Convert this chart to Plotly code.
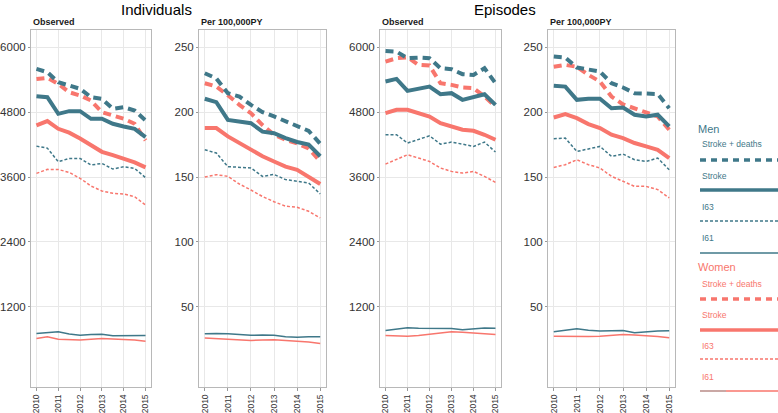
import plotly.graph_objects as go

years = [2010, 2010.5, 2011, 2011.5, 2012, 2012.5, 2013, 2013.5, 2014, 2014.5, 2015]
year_ticks = [2010, 2011, 2012, 2013, 2014, 2015]
obs_ticks = [1200, 2400, 3600, 4800, 6000]
rate_ticks = [50, 100, 150, 200, 250]
group_titles = ["Individuals", "Episodes"]
panel_titles = ["Observed", "Per 100,000PY", "Observed", "Per 100,000PY"]
sexes = ["Men", "Women"]
outcomes = ["Stroke + deaths", "Stroke", "I63", "I61"]

# Individuals, observed
ind_obs_men_sd = [5600, 5538, 5354, 5292, 5231, 5077, 5046, 4862, 4892, 4830, 4646]
ind_obs_women_sd = [5415, 5434, 5323, 5169, 5108, 5015, 4800, 4738, 4677, 4585, 4277]
ind_obs_men_st = [5095, 5077, 4769, 4818, 4818, 4677, 4677, 4585, 4535, 4492, 4338]
ind_obs_women_st = [4554, 4634, 4492, 4420, 4314, 4190, 4067, 4006, 3945, 3871, 3779]
ind_obs_men_i63 = [4172, 4135, 3883, 3945, 3945, 3822, 3852, 3748, 3791, 3760, 3588]
ind_obs_women_i63 = [3668, 3742, 3740, 3686, 3576, 3434, 3342, 3299, 3287, 3237, 3083]
ind_obs_men_i61 = [707, 725, 738, 700, 677, 690, 695, 665, 665, 670, 670]
ind_obs_women_i61 = [616, 646, 603, 590, 585, 600, 616, 605, 597, 585, 566]

# Individuals, per 100,000 PY
ind_rate_men_sd = [230, 226, 214.6, 212, 205.6, 200, 196.7, 193, 190, 185.6, 175.6]
ind_rate_women_sd = [222.3, 219.7, 213, 205.6, 199.2, 190, 182.6, 178.7, 176, 172, 162]
ind_rate_men_st = [210.3, 207.7, 194, 192.8, 191.5, 185, 183.8, 180, 177, 175, 166]
ind_rate_women_st = [187.7, 187.7, 181.3, 176, 171, 166, 162, 158, 155.6, 150.5, 144.6]
ind_rate_men_i63 = [171, 168.5, 158, 157.4, 157, 150.5, 152, 148, 146.7, 145.4, 137]
ind_rate_women_i63 = [150, 151.8, 150.5, 144.6, 140, 135, 131, 127.5, 126.7, 123.6, 118.5]
ind_rate_men_i61 = [29.2, 29.5, 29.2, 28.5, 28, 28.3, 28, 27, 26.5, 27, 27]
ind_rate_women_i61 = [26, 25.6, 24.9, 24.4, 24.1, 24.4, 24.6, 24.1, 23.6, 22.8, 21.8]

# Episodes, observed
epi_obs_men_sd = [5932, 5920, 5797, 5809, 5797, 5612, 5594, 5502, 5489, 5612, 5335]
epi_obs_women_sd = [5735, 5797, 5815, 5674, 5662, 5335, 5305, 5255, 5243, 5089, 4905]
epi_obs_men_st = [5366, 5415, 5194, 5243, 5274, 5132, 5151, 5028, 5071, 5132, 4935]
epi_obs_women_st = [4782, 4843, 4843, 4782, 4720, 4597, 4535, 4474, 4455, 4382, 4289]
epi_obs_men_i63 = [4382, 4382, 4228, 4289, 4363, 4209, 4246, 4209, 4166, 4246, 4062]
epi_obs_women_i63 = [3840, 3920, 4012, 3951, 3889, 3766, 3705, 3674, 3705, 3612, 3501]
epi_obs_men_i61 = [763, 790, 812, 805, 800, 800, 800, 775, 794, 810, 805]
epi_obs_women_i61 = [671, 665, 658, 670, 689, 710, 738, 730, 720, 705, 689]

# Episodes, per 100,000 PY
epi_rate_men_sd = [242.8, 242, 234.4, 233, 231.3, 222.3, 219, 214.6, 214.6, 214, 203]
epi_rate_women_sd = [235, 236.4, 235, 228.7, 223.6, 212, 206, 203, 200, 196.7, 186.4]
epi_rate_men_st = [220.3, 219.7, 209.5, 210.3, 210.3, 203, 203.6, 198, 196.7, 198, 189]
epi_rate_women_st = [195.9, 198.5, 195.4, 190.8, 187.7, 182.6, 180, 176.2, 173.6, 171, 164.6]
epi_rate_men_i63 = [179.5, 180, 169.7, 171.8, 173.6, 165.9, 167.7, 163.3, 162, 164.6, 155.6]
epi_rate_women_i63 = [157.4, 159.5, 163.3, 159.5, 157, 150.5, 146.7, 142.8, 142.8, 140.3, 133.9]
epi_rate_men_i61 = [30.8, 32, 33.1, 32, 31.3, 31.5, 31.8, 30, 30.8, 31.3, 31.5]
epi_rate_women_i61 = [27.4, 27.2, 26.9, 27.1, 27.4, 28, 28.7, 28.3, 27.9, 27.2, 26.2]

panels = [
    {"Men": [ind_obs_men_sd, ind_obs_men_st, ind_obs_men_i63, ind_obs_men_i61],
     "Women": [ind_obs_women_sd, ind_obs_women_st, ind_obs_women_i63, ind_obs_women_i61]},
    {"Men": [ind_rate_men_sd, ind_rate_men_st, ind_rate_men_i63, ind_rate_men_i61],
     "Women": [ind_rate_women_sd, ind_rate_women_st, ind_rate_women_i63, ind_rate_women_i61]},
    {"Men": [epi_obs_men_sd, epi_obs_men_st, epi_obs_men_i63, epi_obs_men_i61],
     "Women": [epi_obs_women_sd, epi_obs_women_st, epi_obs_women_i63, epi_obs_women_i61]},
    {"Men": [epi_rate_men_sd, epi_rate_men_st, epi_rate_men_i63, epi_rate_men_i61],
     "Women": [epi_rate_women_sd, epi_rate_women_st, epi_rate_women_i63, epi_rate_women_i61]},
]

W, H = 778, 413
colors = {"Men": "#3F7889", "Women": "#F8766D"}
styles = [
    dict(width=4, dash="8px,5px"),
    dict(width=4, dash="solid"),
    dict(width=1.5, dash="3px,2px"),
    dict(width=1.5, dash="solid"),
]
FONT = "Liberation Sans, Arial, sans-serif"

# panel pixel boxes (left, right)
px_x = [(31, 151), (199, 326), (380, 501), (548, 675)]
top_px, bot_px = 30, 387
obs_range = [-282, 6319]
rate_range = [-11.8, 263.3]

fig = go.Figure()
for i, panel in enumerate(panels):
    xa = "x" if i == 0 else f"x{i+1}"
    ya = "y" if i == 0 else f"y{i+1}"
    for sex in ["Women", "Men"]:
        for k, vals in enumerate(panel[sex]):
            fig.add_trace(go.Scatter(
                x=years, y=vals, mode="lines", xaxis=xa, yaxis=ya,
                line=dict(color=colors[sex], width=styles[k]["width"], dash=styles[k]["dash"]),
                name=f"{sex} {outcomes[k]}", showlegend=False, hoverinfo="skip"))

layout = dict(
    template="none",
    width=W, height=H, margin=dict(l=0, r=0, t=0, b=0, autoexpand=False),
    paper_bgcolor="white", plot_bgcolor="white", showlegend=False,
    font=dict(family=FONT, color="#333333"),
)
ydom = [1 - bot_px / H, 1 - top_px / H]
for i in range(4):
    sx = "" if i == 0 else str(i + 1)
    l, r = px_x[i]
    layout[f"xaxis{sx}"] = dict(
        domain=[l / W, r / W], range=[2009.75, 2015.25], tickvals=year_ticks,
        ticktext=[str(t) for t in year_ticks], tickangle=-90, automargin=False,
        tickfont=dict(size=8.5, color="#333333", family=FONT),
        showgrid=True, gridcolor="#E8E8E8", gridwidth=1, zeroline=False,
        showline=True, linecolor="#B8B8B8", linewidth=1, mirror=True,
        ticks="outside", ticklen=3, tickcolor="#999999",
        anchor="y" if i == 0 else f"y{i+1}", fixedrange=True)
    is_obs = i % 2 == 0
    tv = obs_ticks if is_obs else rate_ticks
    layout[f"yaxis{sx}"] = dict(
        domain=ydom, range=obs_range if is_obs else rate_range, tickvals=tv,
        ticktext=[str(t) for t in tv], automargin=False,
        tickfont=dict(size=11.5, color="#333333", family=FONT),
        showgrid=True, gridcolor="#E8E8E8", gridwidth=1, zeroline=False,
        showline=True, linecolor="#B8B8B8", linewidth=1, mirror=True,
        ticks="outside", ticklen=2, tickcolor="#999999",
        anchor="x" if i == 0 else f"x{i+1}", fixedrange=True)
fig.update_layout(**layout)

ann = []
# group titles
for gi, cx in enumerate([156, 505]):
    ann.append(dict(text=group_titles[gi], x=cx / W, y=1 - 9 / H, xref="paper", yref="paper",
                    xanchor="center", yanchor="middle", showarrow=False,
                    font=dict(size=15, color="#000000", family=FONT)))
# panel subtitles
for i in range(4):
    ann.append(dict(text=f"<b>{panel_titles[i]}</b>", x=px_x[i][0] / W, y=1 - 22 / H,
                    xref="paper", yref="paper", xanchor="left", yanchor="middle",
                    showarrow=False, font=dict(size=9, color="#1A1A1A", family=FONT)))

# custom legend
shapes = []
leg_blocks = [("Men", 129, [144, 176, 207, 238], [160, 190, 221, 253]),
              ("Women", 267, [284, 315, 346, 377], [299, 330, 359, 391])]
for sex, ty, label_ys, line_ys in leg_blocks:
    ann.append(dict(text=sex, x=696 / W, y=1 - ty / H, xref="paper", yref="paper",
                    xanchor="left", yanchor="middle", showarrow=False,
                    font=dict(size=11, color=colors[sex], family=FONT)))
    for k in range(4):
        ann.append(dict(text=outcomes[k], x=700 / W, y=1 - label_ys[k] / H,
                        xref="paper", yref="paper", xanchor="left", yanchor="middle",
                        showarrow=False, font=dict(size=8.5, color=colors[sex], family=FONT)))
        shapes.append(dict(type="line", xref="paper", yref="paper",
                           x0=700 / W, x1=1.0, y0=1 - line_ys[k] / H, y1=1 - line_ys[k] / H,
                           line=dict(color=colors[sex], width=styles[k]["width"] - 0.5 if k < 2 else 1.3,
                                     dash=styles[k]["dash"] if k != 0 else "6px,5px")))
# grey start of the last legend key, as in the reference
shapes.append(dict(type="line", xref="paper", yref="paper", x0=700 / W, x1=726 / W,
                   y0=1 - 391 / H, y1=1 - 391 / H, line=dict(color="#B0B0B0", width=1.3)))
fig.update_layout(annotations=ann, shapes=shapes)

fig.write_html("out.html", config={"displayModeBar": False},
               post_script="document.body.style.margin='0';document.body.style.overflow='hidden';")
